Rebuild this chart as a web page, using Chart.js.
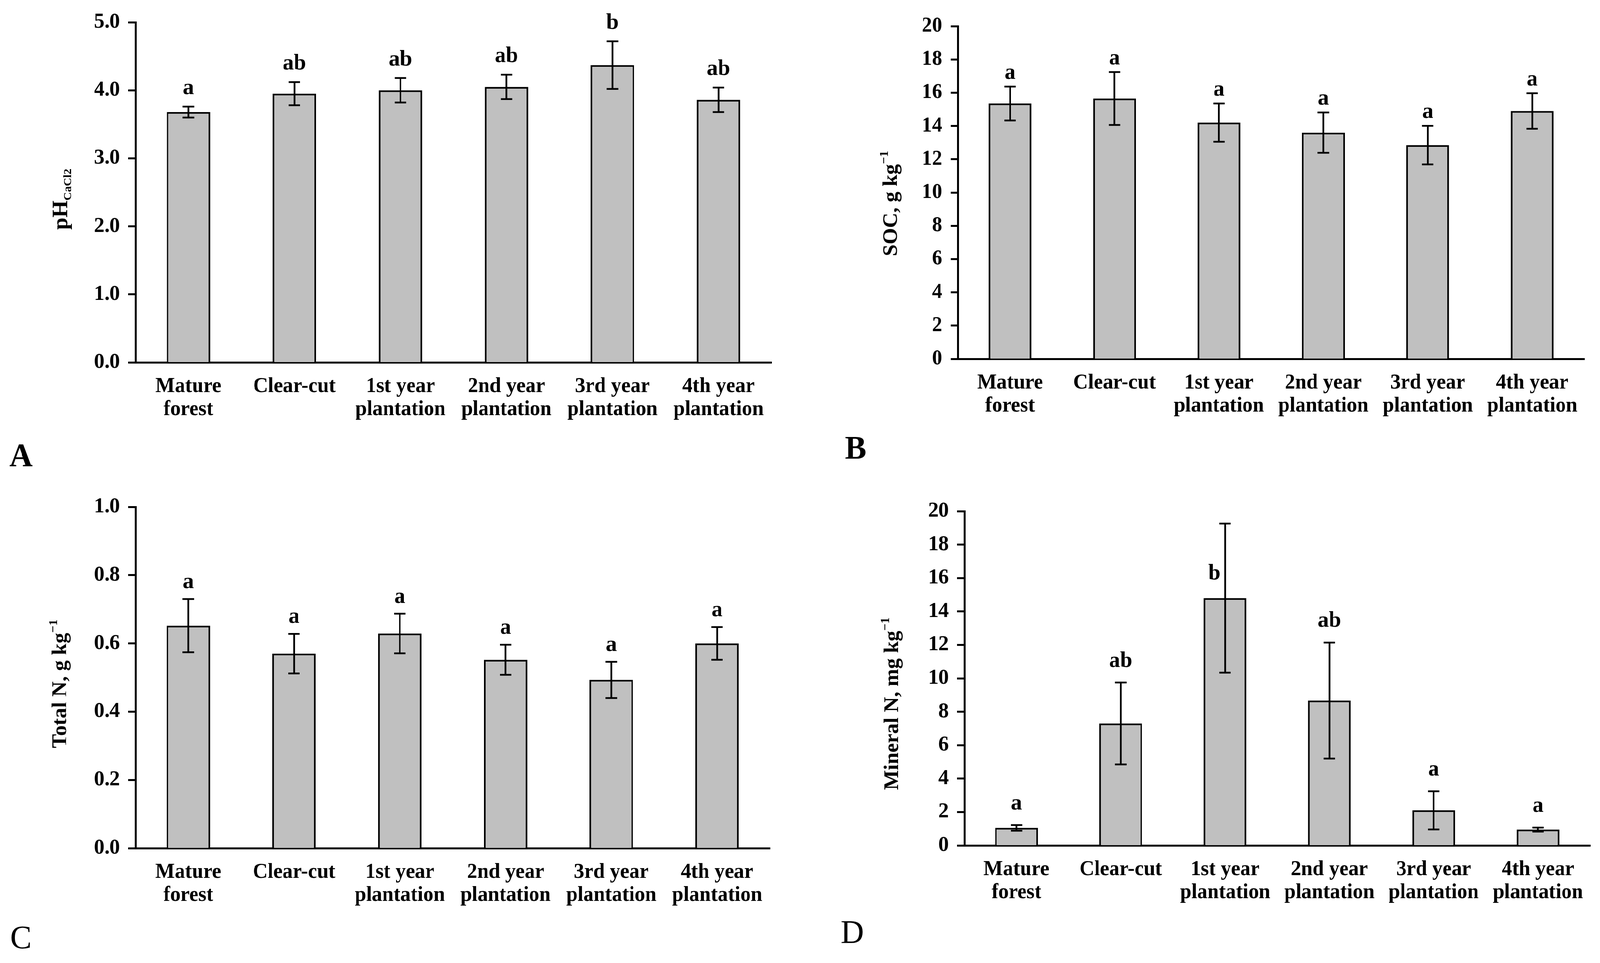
<!DOCTYPE html>
<html>
<head>
<meta charset="utf-8">
<script src="https://cdn.jsdelivr.net/npm/chart.js@4.4.1/dist/chart.umd.min.js"></script>
<style>
    html, body { margin: 0; padding: 0; background: #fff; overflow: hidden; }
    #wrap { position: relative; width: 4206px; height: 2466px; overflow: hidden; background: #fff; transform-origin: 0 0; }
    canvas { position: absolute; }
</style>
</head>
<body>
<div id="wrap">
    <canvas id="chartA" width="2103" height="1233" style="left:0;top:0"></canvas>
    <canvas id="chartB" width="2103" height="1233" style="left:2103px;top:0"></canvas>
    <canvas id="chartC" width="2103" height="1233" style="left:0;top:1233px"></canvas>
    <canvas id="chartD" width="2103" height="1233" style="left:2103px;top:1233px"></canvas>
</div>
<script>
// categories (x axis)
const categories = [
    ['Mature', 'forest'],
    'Clear-cut',
    ['1st year', 'plantation'],
    ['2nd year', 'plantation'],
    ['3rd year', 'plantation'],
    ['4th year', 'plantation']
];

// A - pH (CaCl2)
const phMean = [3.68, 3.95, 4.00, 4.05, 4.37, 3.86];
const phErr = [0.08, 0.17, 0.18, 0.18, 0.35, 0.18];
const phLetters = ['a', 'ab', 'ab', 'ab', 'b', 'ab'];

// B - SOC, g/kg
const socMean = [15.35, 15.65, 14.2, 13.6, 12.85, 14.9];
const socErr = [1.02, 1.59, 1.15, 1.21, 1.16, 1.07];
const socLetters = ['a', 'a', 'a', 'a', 'a', 'a'];

// C - Total N, g/kg
const tnMean = [0.652, 0.570, 0.629, 0.552, 0.493, 0.600];
const tnErr = [0.078, 0.058, 0.058, 0.044, 0.053, 0.048];
const tnLetters = ['a', 'a', 'a', 'a', 'a', 'a'];

// D - Mineral N, mg/kg
const mnMean = [1.05, 7.3, 14.8, 8.67, 2.1, 0.95];
const mnErr = [0.17, 2.45, 4.46, 3.47, 1.14, 0.12];
const mnLetters = ['a', 'ab', 'b', 'ab', 'a', 'a'];

const serif = '"Liberation Serif", "Times New Roman", serif';

// the figure is laid out at 4206x2466; fit it to whatever the window really gives
const wrap = document.getElementById('wrap');
const sx = Math.min(1, window.innerWidth / 4206);
const sy = Math.min(1, window.innerHeight / 2466);
wrap.style.transform = 'scale(' + sx + ',' + sy + ')';

// error bars + significance letters
const errorBarPlugin = {
    id: 'errorBars',
    afterDatasetsDraw(chart, args, opts) {
        const ctx = chart.ctx;
        const meta = chart.getDatasetMeta(0);
        const yScale = chart.scales.y;
        const area = chart.chartArea;
        const values = chart.data.datasets[0].data;
        ctx.save();
        ctx.strokeStyle = '#000';
        ctx.fillStyle = '#000';
        ctx.lineWidth = 4.5;
        ctx.font = 'bold 58px ' + serif;
        ctx.textBaseline = 'alphabetic';
        values.forEach((v, i) => {
            const e = opts.errors[i];
            const x = meta.data[i].x;
            const yTop = yScale.getPixelForValue(v + e);
            const yBot = yScale.getPixelForValue(v - e);
            ctx.beginPath();
            ctx.moveTo(x, yTop); ctx.lineTo(x, yBot);
            ctx.moveTo(x - 15, yTop); ctx.lineTo(x + 15, yTop);
            ctx.moveTo(x - 15, yBot); ctx.lineTo(x + 15, yBot);
            ctx.stroke();

            let ly = yTop - opts.gap;
            if (ly < area.top) {
                // no room above the error bar: put it beside, over the bar
                ctx.textAlign = 'right';
                ctx.fillText(opts.letters[i], x - 12, yScale.getPixelForValue(v) - 48);
            } else {
                ctx.textAlign = 'center';
                ctx.fillText(opts.letters[i], x, ly);
            }
        });
        ctx.restore();
    }
};

// rotated y title with sub/superscripts, and the panel letter
const panelTextPlugin = {
    id: 'panelText',
    afterDraw(chart, args, opts) {
        const ctx = chart.ctx;
        ctx.save();
        ctx.fillStyle = '#000';
        ctx.translate(opts.tx, opts.ty);
        ctx.rotate(-Math.PI / 2);
        ctx.textBaseline = 'alphabetic';
        ctx.textAlign = 'left';
        let total = 0;
        opts.title.forEach(s => {
            ctx.font = 'bold ' + s.size + 'px ' + serif;
            s.w = ctx.measureText(s.text).width;
            total += s.w;
        });
        let x = -total / 2;
        opts.title.forEach(s => {
            ctx.font = 'bold ' + s.size + 'px ' + serif;
            ctx.fillText(s.text, x, 19 + s.shift);
            x += s.w;
        });
        ctx.restore();

        ctx.save();
        ctx.fillStyle = '#000';
        ctx.font = (opts.letterBold ? 'bold ' : '') + '84px ' + serif;
        ctx.textAlign = 'left';
        ctx.textBaseline = 'alphabetic';
        ctx.fillText(opts.letter, opts.lx, opts.ly);
        ctx.restore();
    }
};

function makePanel(id, p) {
    const W = 2103, H = 1233, xAxisH = 160;
    const ctx = document.getElementById(id).getContext('2d');
    return new Chart(ctx, {
        type: 'bar',
        data: {
            labels: categories,
            datasets: [{
                data: p.mean,
                backgroundColor: '#C0C0C0',
                borderColor: '#000',
                borderWidth: 4.5,
                barPercentage: 0.41,
                categoryPercentage: 1.0
            }]
        },
        options: {
            responsive: false,
            devicePixelRatio: 1,
            animation: false,
            layout: {
                padding: {
                    left: 0,
                    top: p.area.top,
                    right: W - p.area.right,
                    bottom: H - p.area.bottom - xAxisH
                }
            },
            plugins: {
                legend: { display: false },
                tooltip: { enabled: false },
                errorBars: { errors: p.err, letters: p.letters, gap: p.gap },
                panelText: {
                    title: p.title, tx: p.tx, ty: p.ty,
                    letter: p.letter, lx: p.lx, ly: p.ly, letterBold: p.letterBold
                }
            },
            scales: {
                x: {
                    grid: { display: false, drawTicks: false },
                    border: { display: true, color: '#000', width: 5 },
                    ticks: {
                        color: '#000',
                        font: { family: serif, size: 54, weight: 'bold', lineHeight: 1.1 },
                        padding: 32,
                        maxRotation: 0,
                        autoSkip: false
                    },
                    afterFit(s) { s.height = xAxisH; }
                },
                y: {
                    min: p.min,
                    max: p.max,
                    ticks: {
                        stepSize: p.step,
                        color: '#000',
                        font: { family: serif, size: 54, weight: 'bold' },
                        padding: 22,
                        callback: v => Number(v).toFixed(p.dec)
                    },
                    grid: {
                        drawOnChartArea: false,
                        drawTicks: true,
                        tickLength: 19,
                        tickWidth: 5,
                        tickColor: '#000',
                        color: '#000'
                    },
                    border: { display: true, color: '#000', width: 5 },
                    afterFit(s) { s.width = p.area.left; }
                }
            }
        },
        plugins: [errorBarPlugin, panelTextPlugin]
    });
}

makePanel('chartA', {
    mean: phMean, err: phErr, letters: phLetters, gap: 32,
    area: { left: 356, top: 57, right: 2028, bottom: 928 },
    min: 0, max: 5, step: 1, dec: 1,
    title: [{ text: 'pH', size: 56, shift: 0 }, { text: 'CaCl2', size: 30, shift: 10 }],
    tx: 158, ty: 510,
    letter: 'A', lx: 25, ly: 1194, letterBold: true
});

makePanel('chartB', {
    mean: socMean, err: socErr, letters: socLetters, gap: 20,
    area: { left: 415, top: 67, right: 2062, bottom: 919 },
    min: 0, max: 20, step: 2, dec: 0,
    title: [{ text: 'SOC, g kg', size: 54, shift: 0 }, { text: '\u22121', size: 32, shift: -24 }],
    tx: 236, ty: 521,
    letter: 'B', lx: 118, ly: 1175, letterBold: true
});

makePanel('chartC', {
    mean: tnMean, err: tnErr, letters: tnLetters, gap: 28,
    area: { left: 356, top: 65, right: 2024, bottom: 939 },
    min: 0, max: 1, step: 0.2, dec: 1,
    title: [{ text: 'Total N, g kg', size: 54, shift: 0 }, { text: '\u22121', size: 32, shift: -24 }],
    tx: 155, ty: 518,
    letter: 'C', lx: 27, ly: 1196, letterBold: false
});

makePanel('chartD', {
    mean: mnMean, err: mnErr, letters: mnLetters, gap: 40,
    area: { left: 432, top: 76, right: 2077, bottom: 932 },
    min: 0, max: 20, step: 2, dec: 0,
    title: [{ text: 'Mineral N, mg kg', size: 54, shift: 0 }, { text: '\u22121', size: 32, shift: -24 }],
    tx: 239, ty: 569,
    letter: 'D', lx: 107, ly: 1182, letterBold: false
});
</script>
</body>
</html>
